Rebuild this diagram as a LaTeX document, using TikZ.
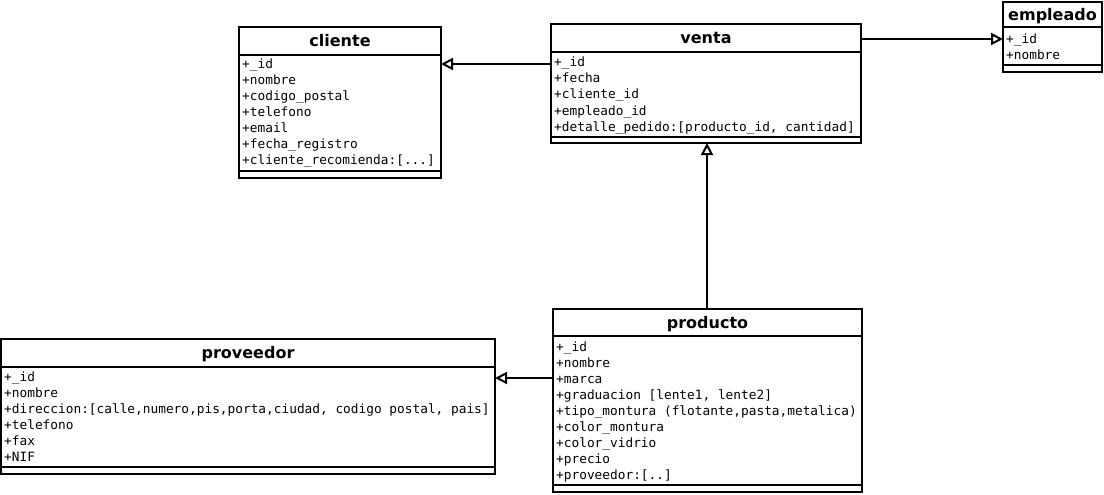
\documentclass[tikz,border=0pt]{standalone}
\usepackage{fontspec}
\newfontfamily\dvsans{DejaVu Sans}
\newfontfamily\dvmono{DejaVu Sans Mono}
\usetikzlibrary{arrows.meta}
\begin{document}
\begin{tikzpicture}[x=1pt,y=-1pt,
  classbox/.style={draw, line width=2pt, rectangle, anchor=north west, outer sep=0pt, inner sep=0pt},
  sep/.style={line width=2pt},
  ctitle/.style={font=\dvsans\bfseries\fontsize{16}{18}\selectfont, anchor=base, inner sep=0pt},
  attr/.style={font=\dvmono\fontsize{12.8}{16}\selectfont, anchor=base west, inner sep=0pt},
  assoc/.style={-{Triangle[open, length=12pt, width=12pt, line width=2pt]}, line width=2pt}
]
\useasboundingbox (0,0) rectangle (1104,495);
\fill[white] (0,0) rectangle (1104,495);

% ---- cliente ----
\node[classbox, minimum width=202pt, minimum height=151pt] (cliente) at (239,27) {};
\draw[sep] (cliente.west |- 0,55) -- (cliente.east |- 0,55);
\draw[sep] (cliente.west |- 0,171) -- (cliente.east |- 0,171);
\node[ctitle] (cliente-t) at (cliente.north |- 0,46.7) {cliente};
\foreach \t [count=\i] in {+\_id,+nombre,+codigo\_postal,+telefono,+email,+fecha\_registro,{+cliente\_recomienda:[.{}.{}.]}}
  \node[attr] (cliente-a\i) at (242,{68.7+16*(\i-1)}) {\t};

% ---- venta ----
\node[classbox, minimum width=310pt, minimum height=119pt] (venta) at (551,24) {};
\draw[sep] (venta.west |- 0,52) -- (venta.east |- 0,52);
\draw[sep] (venta.west |- 0,137) -- (venta.east |- 0,137);
\node[ctitle] (venta-t) at (venta.north |- 0,43.7) {venta};
\foreach \t [count=\i] in {+\_id,+fecha,+cliente\_id,+empleado\_id,{+detalle\_pedido:[producto\_id, cantidad]}}
  \node[attr] (venta-a\i) at (554,{66.5+16.2*(\i-1)}) {\t};

% ---- empleado ----
\node[classbox, minimum width=99pt, minimum height=70pt] (empleado) at (1003,2) {};
\draw[sep] (empleado.west |- 0,27) -- (empleado.east |- 0,27);
\draw[sep] (empleado.west |- 0,65) -- (empleado.east |- 0,65);
\node[ctitle] (empleado-t) at (empleado.north |- 0,20.2) {empleado};
\foreach \t [count=\i] in {+\_id,+nombre}
  \node[attr] (empleado-a\i) at (1006,{43.5+16*(\i-1)}) {\t};

% ---- proveedor ----
\node[classbox, minimum width=494pt, minimum height=135pt] (proveedor) at (1,339) {};
\draw[sep] (proveedor.west |- 0,367) -- (proveedor.east |- 0,367);
\draw[sep] (proveedor.west |- 0,466.5) -- (proveedor.east |- 0,466.5);
\node[ctitle] (proveedor-t) at (proveedor.north |- 0,358.7) {proveedor};
\foreach \t [count=\i] in {+\_id,+nombre,{+direccion:[calle,numero,pis,porta,ciudad, codigo postal, pais]},+telefono,+fax,+NIF}
  \node[attr] (proveedor-a\i) at (4,{381.7+16*(\i-1)}) {\t};

% ---- producto ----
\node[classbox, minimum width=309pt, minimum height=183pt] (producto) at (553,309) {};
\draw[sep] (producto.west |- 0,336) -- (producto.east |- 0,336);
\draw[sep] (producto.west |- 0,485) -- (producto.east |- 0,485);
\node[ctitle] (producto-t) at (producto.north |- 0,328.2) {producto};
\foreach \t [count=\i] in {+\_id,+nombre,+marca,{+graduacion [lente1, lente2]},{+tipo\_montura (flotante,pasta,metalica)},+color\_montura,+color\_vidrio,+precio,{+proveedor:[.{}.]}}
  \node[attr] (producto-a\i) at (556,{351.7+16*(\i-1)}) {\t};

% ---- connectors ----
\coordinate (yc) at (0,64);
\coordinate (ye) at (0,39);
\coordinate (xp) at (707,0);
\coordinate (yp) at (0,378);
\draw[assoc] (venta.west |- yc) -- (cliente.east |- yc);
\draw[assoc] (venta.east |- ye) -- (empleado.west |- ye);
\draw[assoc] (producto.north -| xp) -- (venta.south -| xp);
\draw[assoc] (producto.west |- yp) -- (proveedor.east |- yp);
\end{tikzpicture}
\end{document}
